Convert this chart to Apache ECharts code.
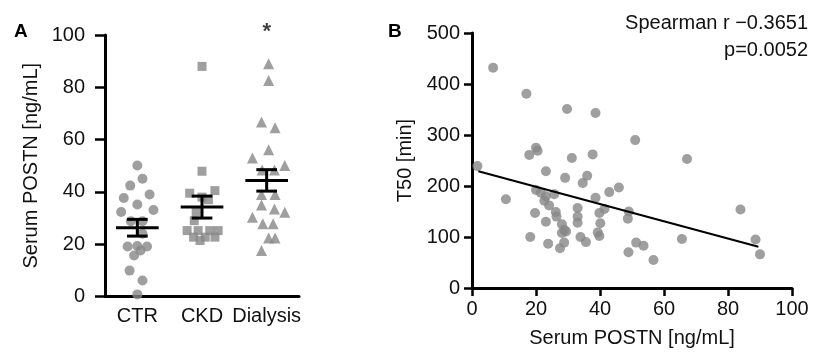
<!DOCTYPE html>
<html>
<head>
<meta charset="utf-8">
<script src="https://cdn.jsdelivr.net/npm/echarts@6/dist/echarts.min.js"></script>
<style>
html,body{margin:0;padding:0;background:#fff;}
#chart{width:813px;height:353px;}
</style>
</head>
<body>
<div id="chart"></div>
<script>
// panel A: groups, positions are [group centre + jitter, value]
const groups = ['CTR', 'CKD', 'Dialysis']
const ctrVals   = [50.1, 45, 42.4, 39, 37.7, 35.2, 32.3, 33.1, 28.8, 28.8, 24, 19.1, 19.3, 19.1, 15.7, 17.6, 9.9, 6.1, 0.8]
const ctrJitter = [0, 0.08, -0.11, 0.19, -0.21, 0, -0.25, 0.25, -0.1, 0.08, 0.08, -0.15, 0, 0.15, -0.05, 0.05, -0.12, 0.08, 0]
const ckdVals   = [88, 47.9, 40.5, 39.5, 38, 37, 32.2, 29, 25.2, 25.2, 25.2, 25.2, 22.7, 22.7, 22.7, 21.4]
const ckdJitter = [0, 0, 0.2, -0.19, 0, 0.1, -0.09, -0.12, -0.23, -0.06, 0.12, 0.25, -0.13, 0.05, 0.2, -0.03]
const dialVals   = [89, 82.6, 66.7, 64.5, 56.1, 53, 50.1, 48.4, 48.4, 39, 39, 35, 33.5, 32.2, 30.3, 27.8, 27.8, 22.4, 22.4, 17.6]
const dialJitter = [0.03, 0.03, -0.08, 0.13, 0.03, -0.22, 0.28, -0.07, 0.12, -0.08, 0.13, -0.08, 0.12, 0.28, -0.22, -0.06, 0.1, 0.03, 0.13, -0.08]
const groupMean = [26.3, 34.2, 44.4]
const groupSem  = [3.2, 4.2, 4.1]

// panel B: serum POSTN vs T50
const postn = [6.6, 17, 29.7, 38.6, 51, 20, 20.5, 17.9, 31.2, 37.7, 1.7, 23.1, 29.1, 36, 34.6, 45.9, 42.9, 10.6, 20, 23.1,
  25.7, 22.6, 21.5, 38.6, 24.1, 33, 41.4, 39.8, 26.2, 26.4, 49, 48.7, 19.7, 33, 33, 23.1, 28.1, 40.1, 28.8, 29.4,
  28.1, 39.3, 39.8, 18.2, 33.9, 35.6, 51.3, 23.8, 28.8, 27.5, 48.9, 67.2, 83.9, 65.6, 53.6, 56.7, 88.6, 90]
const t50 = [432, 381, 351, 343, 290, 275, 269, 261, 255, 262, 239, 229, 216, 220, 206, 197, 188, 174, 192, 180,
  184, 171, 187, 177, 162, 157, 155, 147, 149, 140, 150, 136, 147, 140, 128, 130, 125, 127, 114, 111,
  108, 109, 102, 100, 100, 90, 89, 87, 89, 78, 70, 253, 154, 96, 83, 55, 95, 66]
const fitX = [2, 89.5]
const fitY = [229, 81]

const grey = '#878787'
const font = 'Liberation Sans, Arial, sans-serif'

const pts = (vals, jit, g) => vals.map((v, i) => [g + 0.5 + jit[i], v])

const myChart = echarts.init(document.getElementById('chart'))

const axisCommon = {
  axisLine: { lineStyle: { color: '#000', width: 3 } },
  axisTick: { length: 8, lineStyle: { color: '#000', width: 2.5 } },
  axisLabel: { color: '#111', fontSize: 20, fontFamily: font },
  splitLine: { show: false },
  nameTextStyle: { color: '#111', fontSize: 20, fontFamily: font }
}

const option = {
  animation: false,
  backgroundColor: '#fff',
  grid: [
    { left: 105, right: 514, top: 35, bottom: 56.5 },
    { left: 472, right: 21, top: 33, bottom: 56 }
  ],
  xAxis: [
    {
      ...axisCommon,
      gridIndex: 0, type: 'value', min: 0, max: 3, interval: 0.5,
      axisTick: { show: false },
      axisLabel: {
        ...axisCommon.axisLabel, margin: 10,
        formatter: v => { const i = Math.round(v - 0.5); return Math.abs(v - i - 0.5) < 1e-6 ? groups[i] : '' }
      }
    },
    {
      ...axisCommon,
      gridIndex: 1, type: 'value', min: 0, max: 100, interval: 20,
      axisLabel: { ...axisCommon.axisLabel, margin: 11 },
      name: 'Serum POSTN [ng/mL]', nameLocation: 'middle', nameGap: 40
    }
  ],
  yAxis: [
    {
      ...axisCommon,
      gridIndex: 0, type: 'value', min: 0, max: 100, interval: 20,
      axisTick: { ...axisCommon.axisTick, inside: false, length: 10 },
      axisLabel: { ...axisCommon.axisLabel, margin: 20 },
      name: 'Serum POSTN [ng/mL]', nameLocation: 'middle', nameGap: 64
    },
    {
      ...axisCommon,
      gridIndex: 1, type: 'value', min: 0, max: 500, interval: 100,
      axisLabel: { ...axisCommon.axisLabel, margin: 12 },
      name: 'T50 [min]', nameLocation: 'middle', nameGap: 57
    }
  ],
  graphic: [
    { type: 'text', left: 14, top: 22, style: { text: 'A', font: 'bold 19px ' + font, fill: '#000' } },
    { type: 'text', left: 388, top: 22, style: { text: 'B', font: 'bold 19px ' + font, fill: '#000' } },
    { type: 'text', right: 5, top: 13, style: { text: 'Spearman r \u22120.3651', font: '20px ' + font, fill: '#111' } },
    { type: 'text', right: 5, top: 40, style: { text: 'p=0.0052', font: '20px ' + font, fill: '#111' } }
  ],
  series: [
    { type: 'scatter', xAxisIndex: 0, yAxisIndex: 0, symbol: 'circle', symbolSize: 10, itemStyle: { color: grey }, data: pts(ctrVals, ctrJitter, 0) },
    { type: 'scatter', xAxisIndex: 0, yAxisIndex: 0, symbol: 'rect', symbolSize: 9, itemStyle: { color: grey }, data: pts(ckdVals, ckdJitter, 1) },
    { type: 'scatter', xAxisIndex: 0, yAxisIndex: 0, symbol: 'triangle', symbolSize: 11, itemStyle: { color: grey }, data: pts(dialVals, dialJitter, 2) },
    {
      type: 'custom', xAxisIndex: 0, yAxisIndex: 0, z: 5,
      data: groupMean.map((m, i) => [i + 0.5, m, groupSem[i]]),
      renderItem: (params, api) => {
        const x = api.value(0), m = api.value(1), s = api.value(2)
        const c = api.coord([x, m]), hi = api.coord([x, m + s]), lo = api.coord([x, m - s])
        const w = api.size([0.33, 0])[0], cw = api.size([0.16, 0])[0]
        const st = { stroke: '#000', lineWidth: 3 }
        return {
          type: 'group', children: [
            { type: 'line', shape: { x1: c[0] - w, y1: c[1], x2: c[0] + w, y2: c[1] }, style: st },
            { type: 'line', shape: { x1: c[0], y1: hi[1], x2: c[0], y2: lo[1] }, style: st },
            { type: 'line', shape: { x1: c[0] - cw, y1: hi[1], x2: c[0] + cw, y2: hi[1] }, style: st },
            { type: 'line', shape: { x1: c[0] - cw, y1: lo[1], x2: c[0] + cw, y2: lo[1] }, style: st }
          ]
        }
      }
    },
    {
      type: 'scatter', xAxisIndex: 0, yAxisIndex: 0, symbolSize: 0, clip: false,
      data: [[2.5, 100]],
      label: { show: true, position: 'top', formatter: '*', fontSize: 22, fontWeight: 'bold', color: '#111', fontFamily: font, distance: 0, offset: [0, 8] }
    },
    {
      type: 'scatter', xAxisIndex: 1, yAxisIndex: 1, symbol: 'circle', symbolSize: 10, itemStyle: { color: grey },
      data: postn.map((x, i) => [x, t50[i]])
    },
    {
      type: 'line', xAxisIndex: 1, yAxisIndex: 1, symbol: 'none', z: 5,
      lineStyle: { color: '#000', width: 2 },
      data: fitX.map((x, i) => [x, fitY[i]])
    }
  ]
}
option && myChart.setOption(option)
</script>
</body>
</html>
